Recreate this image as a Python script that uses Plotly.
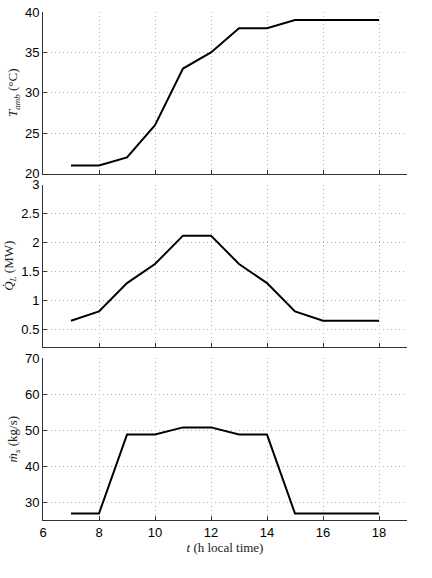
import plotly.graph_objs as go

hours = [7, 8, 9, 10, 11, 12, 13, 14, 15, 16, 17, 18]
t_amb = [21, 21, 22, 26, 33, 35, 38, 38, 39, 39, 39, 39]
q_load = [0.65, 0.81, 1.3, 1.63, 2.12, 2.12, 1.63, 1.3, 0.81, 0.65, 0.65, 0.65]
m_salt = [26.8, 26.8, 48.8, 48.8, 50.8, 50.8, 48.8, 48.8, 26.8, 26.8, 26.8, 26.8]

x_ticks = [6, 8, 10, 12, 14, 16, 18]

tick_font = dict(family='Liberation Sans, Arial, sans-serif', size=13, color='black')
title_font = dict(family='Liberation Serif, DejaVu Serif, serif', size=13, color='#222')
grid = dict(showgrid=True, gridcolor='#b0b0b0', griddash='1px,3px', gridwidth=1)

fig = go.Figure()
fig.add_trace(go.Scatter(x=hours, y=t_amb, mode='lines', line=dict(color='black', width=2),
                         xaxis='x', yaxis='y'))
fig.add_trace(go.Scatter(x=hours, y=q_load, mode='lines', line=dict(color='black', width=2),
                         xaxis='x2', yaxis='y2'))
fig.add_trace(go.Scatter(x=hours, y=m_salt, mode='lines', line=dict(color='black', width=2),
                         xaxis='x3', yaxis='y3'))


def x_axis(anchor, labels):
    return dict(
        grid, anchor=anchor, range=[6, 19], tickvals=x_ticks, showticklabels=labels,
        ticks='inside', ticklen=4, tickcolor='#333', showline=True, linecolor='#333',
        linewidth=1, zeroline=False, tickfont=tick_font, automargin=False,
    )


def y_axis(anchor, domain, rng, vals, title):
    return dict(
        grid, anchor=anchor, domain=domain, range=rng, tickvals=vals,
        ticks='inside', ticklen=4, tickcolor='#333', showline=True, linecolor='#333',
        linewidth=1, zeroline=False, tickfont=tick_font, automargin=False,
        title=dict(text=title, font=title_font, standoff=4),
    )


fig.update_layout(
    width=432, height=578,
    margin=dict(l=43, r=25, t=12, b=58),
    paper_bgcolor='white', plot_bgcolor='white',
    showlegend=False,
    xaxis=x_axis('y', False),
    xaxis2=x_axis('y2', False),
    xaxis3=dict(x_axis('y3', True),
                title=dict(text='<i>t</i> (h local time)', font=title_font, standoff=2)),
    yaxis=y_axis('x', [0.682, 1.0], [20, 40], [20, 25, 30, 35, 40],
                 '<i>T</i><sub><i>amb</i></sub> (°C)'),
    yaxis2=y_axis('x2', [0.341, 0.660], [0.2, 3], [0.5, 1, 1.5, 2, 2.5, 3],
                  '<i>Q̇</i><sub><i>L</i></sub> (MW)'),
    yaxis3=y_axis('x3', [0.0, 0.318], [25, 70], [30, 40, 50, 60, 70],
                  '<i>ṁ</i><sub><i>s</i></sub> (kg/s)'),
)

# drop the default 8px body margin so the figure sits at the page corner
fig.write_html("out.html", config={'displayModeBar': False},
               post_script="document.body.style.margin='0';")
